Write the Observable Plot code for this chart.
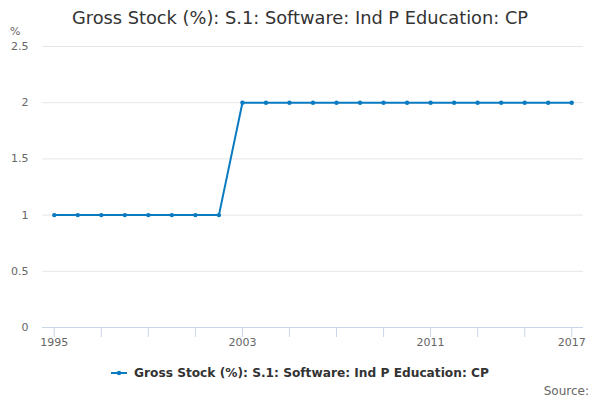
<!DOCTYPE html>
<html><head><meta charset="utf-8">
<script src="https://cdn.jsdelivr.net/npm/d3@7"></script>
<script src="https://cdn.jsdelivr.net/npm/@observablehq/plot@0.6"></script>
<style>
body{margin:0;background:#fff;font-family:"DejaVu Sans",sans-serif;}
#wrap{position:relative;width:600px;height:400px;overflow:hidden;}
#wrap svg{position:absolute;left:0;top:0;}
.t{position:absolute;white-space:nowrap;}
</style></head><body>
<div id="wrap">
<div class="t" id="title" style="left:0;width:600px;text-align:center;top:7px;font-size:17.8px;color:#333;">Gross Stock (%): S.1: Software: Ind P Education: CP</div>
<div class="t" style="left:10px;top:25px;font-size:11px;color:#666;">%</div>
<div class="t" id="legend" style="left:110px;top:366px;font-size:12.2px;font-weight:bold;color:#333;display:flex;align-items:center;">
<svg width="20" height="10" style="position:static;margin-right:4px"><line x1="1" y1="5" x2="17" y2="5" stroke="#0b7bc1" stroke-width="2"/><circle cx="9" cy="5" r="2.2" fill="#0b7bc1"/></svg>
<span>Gross Stock (%): S.1: Software: Ind P Education: CP</span></div>
<div class="t" style="right:11px;top:384px;font-size:12px;color:#666;">Source:</div>
</div>
<script>
const years = [1995,1996,1997,1998,1999,2000,2001,2002,2003,2004,2005,2006,2007,2008,2009,2010,2011,2012,2013,2014,2015,2016,2017];
const values = [1,1,1,1,1,1,1,1,2,2,2,2,2,2,2,2,2,2,2,2,2,2,2];
const yTicks = [0,0.5,1,1.5,2,2.5];
const xMinorTicks = [1995,1997,1999,2001,2003,2005,2007,2009,2011,2013,2015,2017];
const xLabels = [1995,2003,2011,2017];
const data = years.map((y,i)=>({year:y, value:values[i]}));
const color = "#0b7bc1";
const chart = Plot.plot({
  width:600, height:400,
  marginLeft:42, marginRight:17, marginTop:46, marginBottom:73,
  style:{fontFamily:"DejaVu Sans, sans-serif", fontSize:"11px", color:"#666", background:"transparent"},
  x:{domain:[1994.5,2017.5]},
  y:{domain:[0,2.5]},
  marks:[
    Plot.ruleY(yTicks.filter(d=>d>0), {stroke:"#e6e6e6", strokeWidth:1}),
    Plot.ruleY([0], {stroke:"#ccd6eb", strokeWidth:1}),
    Plot.axisY({ticks:yTicks, tickSize:0, tickPadding:14, tickFormat:d=>String(d), label:null, fill:"#666"}),
    Plot.axisX({ticks:xMinorTicks, tickSize:10, tickFormat:()=>"", stroke:"#ccd6eb", label:null}),
    Plot.axisX({ticks:xLabels, tickSize:0, tickPadding:11, tickFormat:d=>String(d), label:null, fill:"#666"}),
    Plot.line(data, {x:"year", y:"value", stroke:color, strokeWidth:2}),
    Plot.dot(data, {x:"year", y:"value", fill:color, r:2.2})
  ]
});
document.getElementById("wrap").prepend(chart);
</script>
</body></html>
